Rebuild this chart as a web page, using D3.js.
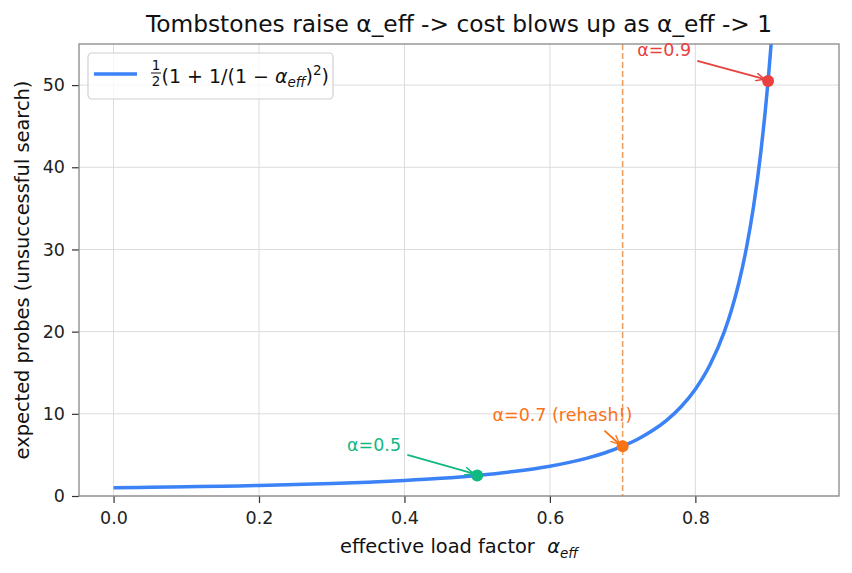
<!DOCTYPE html>
<html>
<head>
<meta charset="utf-8">
<script src="https://cdn.jsdelivr.net/npm/d3@7"></script>
<style>
  body { margin: 0; background: #fff; }
  text { font-family: "DejaVu Sans", sans-serif; }
</style>
</head>
<body>
<div id="chart"></div>
<script>
// curve: effective load factor vs expected probes
var alphaValues = [0, 0.05, 0.1, 0.15, 0.2, 0.25, 0.3, 0.35, 0.4, 0.45, 0.5, 0.55, 0.6, 0.625, 0.65, 0.675, 0.7,
    0.72, 0.74, 0.76, 0.78, 0.8, 0.82, 0.84, 0.85, 0.86, 0.87, 0.88, 0.89, 0.9, 0.905, 0.91];
var probeValues = [1.0, 1.05, 1.12, 1.19, 1.28, 1.39, 1.52, 1.68, 1.89, 2.15, 2.5, 2.97, 3.63, 4.06, 4.58, 5.23, 6.06,
    6.88, 7.9, 9.18, 10.83, 13.0, 15.93, 20.03, 22.72, 26.01, 30.09, 35.22, 41.82, 50.5, 55.9, 62.3];

var markerAlphas = [0.5, 0.7, 0.9];
var markerProbes = [2.5, 6.06, 50.5];
var markerLabels = ["α=0.5", "α=0.7 (rehash!)", "α=0.9"];
var markerColors = ["#10b981", "#f97316", "#e8413f"];

var xTicks = [0.0, 0.2, 0.4, 0.6, 0.8];
var yTicks = [0, 10, 20, 30, 40, 50];

(function() {
    var margin = { top: 44, left: 79, right: 13, bottom: 77 },
        width = 852 - margin.left - margin.right,
        height = 573 - margin.top - margin.bottom;

    var xPositionScale = d3.scaleLinear().domain([-0.0475, 0.9975]).range([0, width]);
    var yPositionScale = d3.scaleLinear().domain([0, 55]).range([height, 0]);

    var root = d3.select("#chart").append("svg")
        .attr("width", 852)
        .attr("height", 573);

    var svg = root.append("g")
        .attr("transform", "translate(" + margin.left + "," + margin.top + ")");

    svg.append("clipPath").attr("id", "clip")
        .append("rect").attr("width", width).attr("height", height);

    // grid
    svg.selectAll(".xgrid").data(xTicks).enter().append("line")
        .attr("x1", function(d) { return xPositionScale(d); })
        .attr("x2", function(d) { return xPositionScale(d); })
        .attr("y1", 0).attr("y2", height)
        .attr("stroke", "#dcdcdc").attr("stroke-width", 1);
    svg.selectAll(".ygrid").data(yTicks).enter().append("line")
        .attr("y1", function(d) { return yPositionScale(d); })
        .attr("y2", function(d) { return yPositionScale(d); })
        .attr("x1", 0).attr("x2", width)
        .attr("stroke", "#dcdcdc").attr("stroke-width", 1);

    // rehash threshold
    svg.append("line")
        .attr("x1", xPositionScale(0.7)).attr("x2", xPositionScale(0.7))
        .attr("y1", 0).attr("y2", height)
        .attr("stroke", "#f0a060").attr("stroke-width", 1.6)
        .attr("stroke-dasharray", "6,3");

    var points = alphaValues.map(function(a, i) { return [a, probeValues[i]]; });
    var line = d3.line()
        .x(function(d) { return xPositionScale(d[0]); })
        .y(function(d) { return yPositionScale(d[1]); })
        .curve(d3.curveMonotoneX);

    svg.append("path")
        .datum(points)
        .attr("clip-path", "url(#clip)")
        .attr("d", line)
        .attr("fill", "none")
        .attr("stroke", "#3b82f6")
        .attr("stroke-width", 3.5);

    // axes
    var xAxis = d3.axisBottom(xPositionScale).tickValues(xTicks).tickFormat(d3.format(".1f"))
        .tickSize(7).tickPadding(9).tickSizeOuter(0);
    var yAxis = d3.axisLeft(yPositionScale).tickValues(yTicks)
        .tickSize(7).tickPadding(7).tickSizeOuter(0);

    var gx = svg.append("g").attr("transform", "translate(0," + height + ")").call(xAxis);
    var gy = svg.append("g").call(yAxis);
    [gx, gy].forEach(function(g) {
        g.select(".domain").remove();
        g.selectAll(".tick line").attr("stroke", "#333").attr("stroke-width", 1.2);
        g.selectAll(".tick text").attr("fill", "#222")
            .attr("font-size", 17.5).attr("font-family", "DejaVu Sans");
    });

    // frame
    svg.append("rect")
        .attr("width", width).attr("height", height)
        .attr("fill", "none").attr("stroke", "#888").attr("stroke-width", 1.3);

    // annotations
    var defs = root.append("defs");
    markerColors.forEach(function(c, i) {
        defs.append("marker")
            .attr("id", "arrow" + i)
            .attr("viewBox", "0 0 10 10")
            .attr("refX", 9).attr("refY", 5)
            .attr("markerWidth", 9).attr("markerHeight", 9)
            .attr("markerUnits", "userSpaceOnUse")
            .attr("orient", "auto")
            .append("path").attr("d", "M0,0.5 L10,5 L0,9.5")
            .attr("fill", "none").attr("stroke", c).attr("stroke-width", 1.6);
    });

    var textPos = [[0.321, 5.47], [0.521, 9.12], [0.72, 53.5]];
    var arrowStart = [[0.404, 5.0], [0.675, 7.95], [0.8026, 52.96]];
    var arrowEndOff = [[-0.006, 0.25], [-0.005, 0.3], [-0.006, 0.25]];

    markerAlphas.forEach(function(a, i) {
        svg.append("line")
            .attr("x1", xPositionScale(arrowStart[i][0]))
            .attr("y1", yPositionScale(arrowStart[i][1]))
            .attr("x2", xPositionScale(a + arrowEndOff[i][0]))
            .attr("y2", yPositionScale(markerProbes[i] + arrowEndOff[i][1]))
            .attr("stroke", markerColors[i]).attr("stroke-width", 1.8)
            .attr("marker-end", "url(#arrow" + i + ")");
        svg.append("text")
            .attr("x", xPositionScale(textPos[i][0]))
            .attr("y", yPositionScale(textPos[i][1]))
            .attr("fill", markerColors[i])
            .attr("font-size", 17.5)
            .text(markerLabels[i]);
    });

    svg.selectAll(".marker-dot")
        .data(markerAlphas).enter().append("circle")
        .attr("cx", function(d) { return xPositionScale(d); })
        .attr("cy", function(d, i) { return yPositionScale(markerProbes[i]); })
        .attr("r", 6)
        .attr("fill", function(d, i) { return markerColors[i]; });

    // legend
    var legend = svg.append("g").attr("transform", "translate(9,9)");
    legend.append("rect")
        .attr("width", 245).attr("height", 46).attr("rx", 4)
        .attr("fill", "#fff").attr("fill-opacity", 0.8)
        .attr("stroke", "#d0d0d0").attr("stroke-width", 1.2);
    legend.append("line")
        .attr("x1", 6).attr("x2", 49).attr("y1", 21).attr("y2", 21)
        .attr("stroke", "#3b82f6").attr("stroke-width", 3.5);
    // 1/2 fraction
    legend.append("text").attr("x", 68).attr("y", 17).attr("text-anchor", "middle")
        .attr("font-size", 13.5).attr("fill", "#111").text("1");
    legend.append("line").attr("x1", 63).attr("x2", 73).attr("y1", 20).attr("y2", 20)
        .attr("stroke", "#111").attr("stroke-width", 1);
    legend.append("text").attr("x", 68).attr("y", 33).attr("text-anchor", "middle")
        .attr("font-size", 13.5).attr("fill", "#111").text("2");
    var lt = legend.append("text").attr("x", 73.5).attr("y", 29.5)
        .attr("font-size", 19).attr("fill", "#111");
    lt.append("tspan").text("(1 + 1/(1 − ");
    lt.append("tspan").style("font-style", "italic").text("α");
    lt.append("tspan").attr("dy", 4.5).attr("font-size", 13.5).style("font-style", "italic").text("eff");
    lt.append("tspan").attr("dy", -4.5).text(")");
    lt.append("tspan").attr("dy", -8).attr("font-size", 13.5).text("2");
    lt.append("tspan").attr("dy", 8).text(")");

    // title and axis labels
    root.append("text")
        .attr("x", margin.left + width / 2).attr("y", 32)
        .attr("text-anchor", "middle")
        .attr("font-size", 23.3).attr("fill", "#111")
        .text("Tombstones raise α_eff -> cost blows up as α_eff -> 1");

    var xl = root.append("text")
        .attr("x", margin.left + width / 2).attr("y", 553)
        .attr("text-anchor", "middle")
        .attr("font-size", 19.4).attr("fill", "#111");
    xl.append("tspan").text("effective load factor \u00a0");
    xl.append("tspan").style("font-style", "italic").text("α");
    xl.append("tspan").attr("dy", 4.5).attr("font-size", 13.5).style("font-style", "italic").text("eff");

    root.append("text")
        .attr("transform", "translate(29," + (margin.top + height / 2) + ") rotate(-90)")
        .attr("text-anchor", "middle")
        .attr("font-size", 19.4).attr("fill", "#111")
        .text("expected probes (unsuccessful search)");
})();
</script>
</body>
</html>
